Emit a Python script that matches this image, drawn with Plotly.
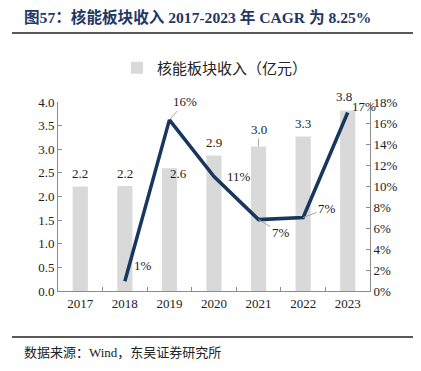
import plotly.graph_objects as go

years = ["2017", "2018", "2019", "2020", "2021", "2022", "2023"]
revenue = [2.21, 2.22, 2.60, 2.87, 3.06, 3.27, 3.82]
revenue_labels = ["2.2", "2.2", "2.6", "2.9", "3.0", "3.3", "3.8"]
growth_years = ["2018", "2019", "2020", "2021", "2022", "2023"]
growth = [0.92, 16.3, 10.9, 6.8, 7.0, 17.0]
growth_labels = ["1%", "16%", "11%", "7%", "7%", "17%"]
left_ticks = [0, 0.5, 1.0, 1.5, 2.0, 2.5, 3.0, 3.5, 4.0]
right_ticks = [0, 2, 4, 6, 8, 10, 12, 14, 16, 18]

W, H = 421, 371
OFF = 8  # page body margin offset
FONT = "Liberation Serif, Noto Sans CJK SC"
AX = "#8c8c8c"


def px(x):
    return (x - OFF) / W


def py(y):
    return 1 - (y - OFF) / H


fig = go.Figure()
fig.add_trace(go.Bar(x=years, y=revenue, name="核能板块收入（亿元）",
                     marker=dict(color="#d9d9d9", line=dict(width=0)),
                     width=0.34, yaxis="y"))
fig.add_trace(go.Scatter(x=growth_years, y=growth, mode="lines", showlegend=False,
                         line=dict(color="#17375e", width=3.5), yaxis="y2"))


def idx(yr):
    return years.index(yr)


# bar value labels
for yr, v, t in zip(years, revenue, revenue_labels):
    base = dict(x=idx(yr), y=v, xref="x", yref="y", text=t,
                font=dict(family=FONT, size=13, color="#222"))
    if yr == "2021":
        base.update(showarrow=True, arrowhead=0, arrowwidth=1, arrowcolor="#a6a6a6",
                    ax=0, ay=-17)
    elif yr == "2019":
        base.update(showarrow=False, xshift=9, yshift=-5)
    elif yr == "2023":
        base.update(showarrow=False, xshift=-4, yshift=14)
    else:
        base.update(showarrow=False, yshift=13)
    fig.add_annotation(**base)

# growth labels
g_cfg = {
    "2018": dict(showarrow=False, xshift=18, yshift=16),
    "2019": dict(showarrow=True, ax=16, ay=-18),
    "2020": dict(showarrow=False, xshift=25, yshift=0),
    "2021": dict(showarrow=True, ax=22, ay=13),
    "2022": dict(showarrow=True, ax=24, ay=-9),
    "2023": dict(showarrow=False, xshift=16, yshift=6),
}
for yr, v, t in zip(growth_years, growth, growth_labels):
    c = g_cfg[yr]
    kw = dict(x=idx(yr), y=v, xref="x", yref="y2", text=t,
              font=dict(family=FONT, size=13, color="#222"))
    if c["showarrow"]:
        kw.update(showarrow=True, arrowhead=0, arrowwidth=1, arrowcolor="#a6a6a6",
                  ax=c["ax"], ay=c["ay"])
    else:
        kw.update(showarrow=False, xshift=c["xshift"], yshift=c["yshift"])
    fig.add_annotation(**kw)

fig.update_layout(
    width=W, height=H, autosize=False,
    margin=dict(l=0, r=0, t=0, b=0, pad=0, autoexpand=False),
    paper_bgcolor="white", plot_bgcolor="white",
    font=dict(family=FONT, size=13, color="#222"),
    xaxis=dict(domain=[px(58), px(370)], type="category", range=[-0.5, len(years) - 0.5],
               showline=True, linecolor=AX, automargin=False,
               ticks="inside", ticklen=4, tickcolor=AX, tickson="boundaries",
               showgrid=False, tickangle=0,
               tickfont=dict(family=FONT, size=13, color="#222")),
    yaxis=dict(domain=[py(291), py(102)], range=[0, 4.0], tickvals=left_ticks, automargin=False,
               ticktext=[f"{v:.1f}" for v in left_ticks], showline=True, linecolor=AX,
               ticks="inside", ticklen=4, tickcolor=AX, showgrid=False, zeroline=False,
               tickfont=dict(family=FONT, size=13, color="#222")),
    yaxis2=dict(domain=[py(291), py(102)], range=[0, 18], overlaying="y", side="right",
                tickvals=right_ticks, ticktext=[f"{v}%" for v in right_ticks],
                showline=True, linecolor=AX, ticks="inside", ticklen=4, tickcolor=AX,
                showgrid=False, zeroline=False, automargin=False,
                tickfont=dict(family=FONT, size=13, color="#222")),
    legend=dict(orientation="h", x=px(215), xanchor="center", y=py(68), yanchor="middle",
                font=dict(family=FONT, size=15, color="#222"), bgcolor="rgba(0,0,0,0)"),
    showlegend=True,
)

fig.add_annotation(xref="paper", yref="paper", x=px(22), y=py(17), xanchor="left",
                   yanchor="middle", showarrow=False,
                   text="<b>图57：核能板块收入 2017-2023 年 CAGR 为 8.25%</b>",
                   font=dict(family=FONT, size=15.6, color="#1f3864"))
fig.add_annotation(xref="paper", yref="paper", x=px(22), y=py(352), xanchor="left",
                   yanchor="middle", showarrow=False,
                   text="数据来源：Wind，东吴证券研究所",
                   font=dict(family=FONT, size=13, color="#222"))
fig.add_shape(type="line", xref="paper", yref="paper", x0=px(12), x1=px(413),
              y0=py(33), y1=py(33), line=dict(color="#222", width=1.5))
fig.add_shape(type="line", xref="paper", yref="paper", x0=px(12), x1=px(413),
              y0=py(337), y1=py(337), line=dict(color="#222", width=1.5))

fig.write_html("out.html")
